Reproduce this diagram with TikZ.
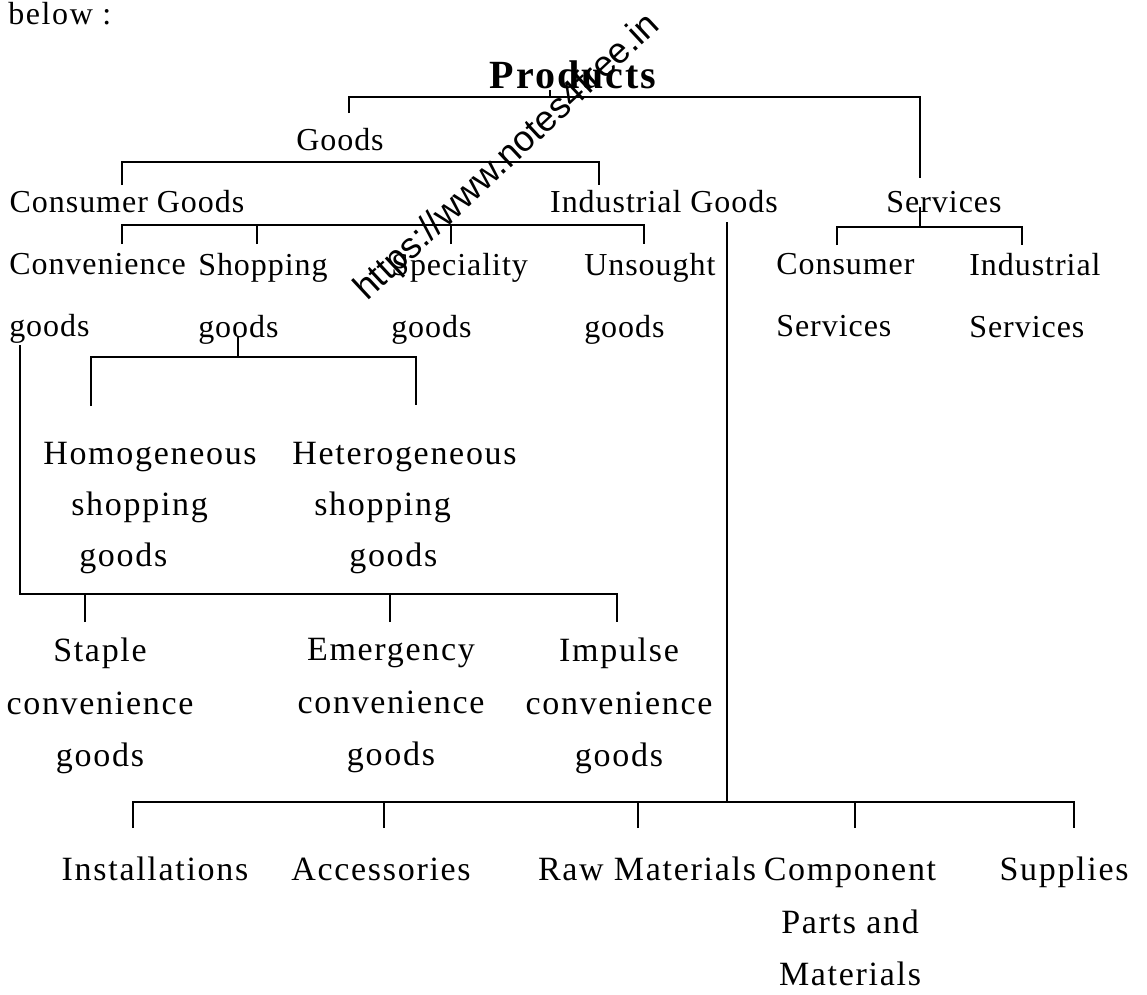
\documentclass[tikz,border=0pt]{standalone}
\usepackage{fontspec}
\setmainfont{Liberation Serif}
\newfontfamily\topfont{Liberation Serif}[LetterSpace=3]
\newfontfamily\lowfont{Liberation Serif}[LetterSpace=5]
\newfontfamily\markfont{Liberation Sans}
\usetikzlibrary{positioning}

\begin{document}
\begin{tikzpicture}[x=1pt, y=-1pt, line width=2.6pt,
    txt/.style={inner sep=0pt, font=\topfont\fontsize{32}{62}\selectfont},
    two/.style={txt, align=left, anchor=north west},
    sub/.style={inner sep=0pt, align=left, anchor=north west, font=\lowfont\fontsize{34}{51}\selectfont},
    kind/.style={inner sep=0pt, align=center, font=\lowfont\fontsize{34}{52.5}\selectfont}]
    \useasboundingbox (0,0) rectangle (1147,994);

    % Headings
    \node[txt, anchor=base west, font=\lowfont\fontsize{32}{40}\selectfont] (below) at (7,24.5) {below :};
    \node[txt, anchor=base, font=\lowfont\bfseries\fontsize{40}{48}\selectfont] (prod) at (573,88) {Products};
    \node[txt, anchor=base] (goods) at (340,150) {Goods};
    \node[txt, anchor=base] (cons) at (127,212) {Consumer Goods};
    \node[txt, anchor=base] (ind) at (664,212) {Industrial Goods};
    \node[txt, anchor=base] (serv) at (944,212) {Services};

    % Consumer goods and services
    \node[two] (conv) at (8,252) {Convenience\\goods};
    \node[two] (shop) at (197,252) {Shopping\\goods};
    \node[two] (spec) at (390,252) {Speciality\\goods};
    \node[two] (unsought) at (583,252) {Unsought\\goods};
    \node[two] (csrv) at (775,252) {Consumer\\Services};
    \node[two] (isrv) at (968,252) {Industrial\\Services};

    % Shopping goods
    \node[sub] (homo) at (42,440.5) {Homogeneous\\\hspace*{28pt}shopping\\\hspace*{36pt}goods};
    \node[sub] (hetero) at (291,440.5) {Heterogeneous\\\hspace*{22pt}shopping\\\hspace*{57pt}goods};

    % Convenience goods
    \node[kind, anchor=north] (staple) at (100,637) {Staple\\convenience\\goods};
    \node[kind, anchor=north] (emerg) at (391,637) {Emergency\\convenience\\goods};
    \node[kind, anchor=north] (impulse) at (619,637) {Impulse\\convenience\\goods};

    % Industrial goods
    \node[kind, anchor=base] (inst) at (155,880) {Installations};
    \node[kind, anchor=base] (acc) at (381,880) {Accessories};
    \node[kind, anchor=base] (raw) at (647,880) {Raw Materials};
    \node[kind, anchor=north] (comp) at (850,857) {Component\\Parts and\\Materials};
    \node[kind, anchor=base] (supp) at (1064,880) {Supplies};

    % Watermark
    \node[rotate=43, inner sep=0pt, font=\markfont\fontsize{36}{40}\selectfont] (mark) at (508,158) {https://www.notes4free.in};

    % Products
    \coordinate (pbar) at (550,97);
    \coordinate (pgoods) at (349,113);
    \coordinate (pserv) at (920,178);
    \draw (prod.south -| pbar) -- (pbar);
    \draw (pgoods) |- (pbar) -| (pserv);

    % Goods
    \coordinate (gbar) at (0,162);
    \coordinate (gcons) at (122,185);
    \coordinate (gind) at (599,185);
    \draw (gcons) |- (gbar -| gind) -- (gind);

    % Consumer goods
    \coordinate (cbar) at (0,225);
    \foreach \c/\x in {cconv/122, cshop/257, cspec/451, cuns/644}
        \coordinate (\c) at (\x,244);
    \draw (cconv) |- (cbar -| cuns) -- (cuns);
    \foreach \c in {cshop, cspec} \draw (\c) -- (\c |- cbar);

    % Services
    \coordinate (stop) at (920,207);
    \coordinate (sbar) at (920,227);
    \coordinate (scons) at (837,245);
    \coordinate (sind) at (1022,245);
    \draw (stop) -- (sbar);
    \draw (scons) |- (sbar) -| (sind);

    % Shopping goods
    \coordinate (shtop) at (238,337);
    \coordinate (shbar) at (238,357);
    \coordinate (shhomo) at (91,406);
    \coordinate (shhet) at (416,405);
    \draw (shtop) -- (shbar);
    \draw (shhomo) |- (shbar) -| (shhet);

    % Convenience goods
    \coordinate (cvtop) at (20,345);
    \coordinate (cvbar) at (20,594);
    \foreach \c/\x in {cvsta/85, cvemg/390, cvimp/617}
        \coordinate (\c) at (\x,622);
    \draw (cvtop) -- (cvbar) -| (cvimp);
    \foreach \c in {cvsta, cvemg} \draw (\c) -- (\c |- cvbar);

    % Industrial goods
    \coordinate (itop) at (727,222);
    \coordinate (ibar) at (727,802);
    \draw (itop) -- (ibar);
    \foreach \c/\x in {iinst/133, iacc/384, iraw/638, icomp/855, isupp/1074}
        \coordinate (\c) at (\x,828);
    \draw (iinst) |- (ibar) -| (isupp);
    \foreach \c in {iacc, iraw, icomp} \draw (\c) -- (\c |- ibar);
\end{tikzpicture}
\end{document}
